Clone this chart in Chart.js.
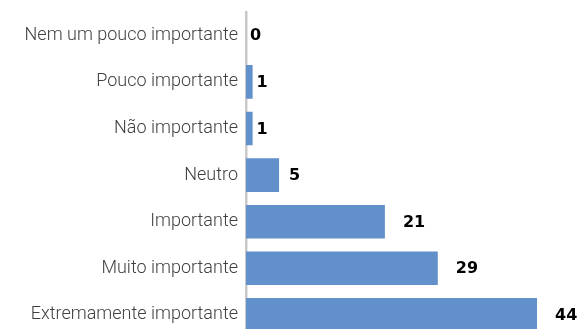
<!DOCTYPE html>
<html>
<head>
<meta charset="utf-8">
<script src="https://cdn.jsdelivr.net/npm/chart.js@4/dist/chart.umd.min.js"></script>
<style>
  html, body { margin: 0; padding: 0; background: #fff; overflow: hidden; }
  #wrap { width: 579px; height: 329px; overflow: hidden; }
</style>
</head>
<body>
<div id="wrap"><canvas id="chart" width="579" height="349"></canvas></div>
<script>
const categories = [
  'Nem um pouco importante',
  'Pouco importante',
  'Não importante',
  'Neutro',
  'Importante',
  'Muito importante',
  'Extremamente importante'
];
const responses = [0, 1, 1, 5, 21, 29, 44];

// writes each bar's value just past its end
const valueLabels = {
  id: 'valueLabels',
  afterDatasetsDraw(chart) {
    const ctx = chart.ctx;
    const meta = chart.getDatasetMeta(0);
    ctx.save();
    ctx.font = 'bold 16px "DejaVu Sans"';
    ctx.fillStyle = '#000';
    ctx.textBaseline = 'middle';
    ctx.textAlign = 'left';
    meta.data.forEach((bar, i) => {
      const v = responses[i];
      const gap = v >= 10 ? 18 : (v > 1 ? 10 : 4);
      ctx.fillText(String(v), bar.x + gap, bar.y + 1);
    });
    ctx.restore();
  }
};

new Chart(document.getElementById('chart').getContext('2d'), {
  type: 'bar',
  data: {
    labels: categories,
    datasets: [{
      data: responses,
      backgroundColor: '#6190cb',
      barPercentage: 0.72,
      categoryPercentage: 1
    }]
  },
  options: {
    indexAxis: 'y',
    responsive: false,
    animation: false,
    layout: { padding: { top: 12, right: 42, left: 0, bottom: 0 } },
    plugins: {
      legend: { display: false },
      tooltip: { enabled: false }
    },
    scales: {
      x: {
        display: false,
        min: 0,
        max: 44
      },
      y: {
        grid: { display: false },
        border: { display: true, color: '#c9c9c9', width: 2.5 },
        ticks: {
          color: '#404040',
          padding: 0,
          font: { family: 'Roboto', size: 18, weight: 300 }
        },
        afterFit(scale) { scale.width = 246; }
      }
    }
  },
  plugins: [valueLabels]
});
</script>
</body>
</html>
